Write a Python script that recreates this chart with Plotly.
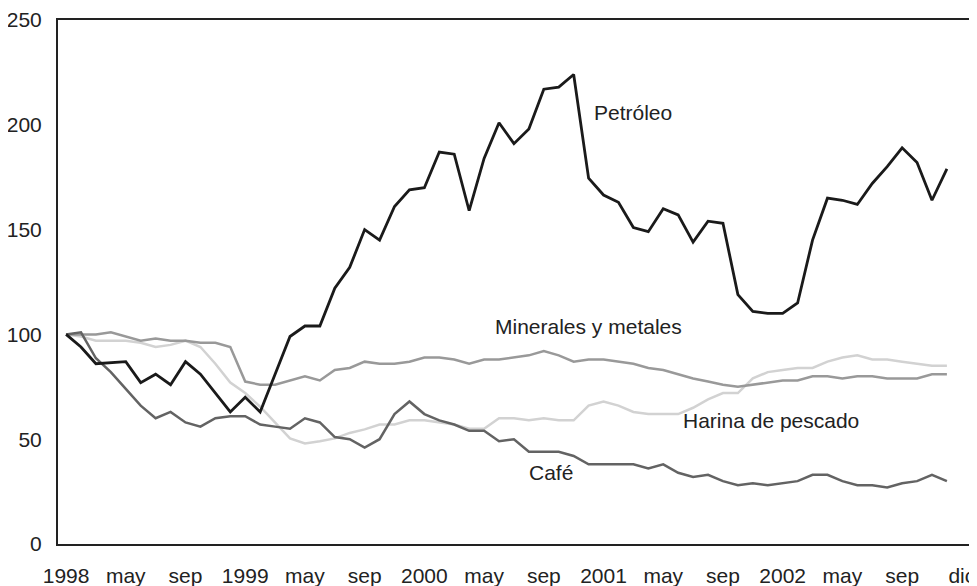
import plotly.graph_objects as go

# Monthly index, Jan 1998 = 100 (60 months: Jan 1998 - Dec 2002)
months = list(range(60))

petroleo = [100, 94, 86, 86.5, 87, 77, 81, 76, 87, 81, 72, 63, 70, 63, 81, 99, 104, 104, 122, 132,
            150, 145, 161, 169, 170, 187, 186, 159, 184, 201, 191, 198, 217, 218, 224, 174.5, 166.5, 163, 151, 149,
            160, 157, 144, 154, 153, 119, 111, 110, 110, 115, 145, 165, 164, 162, 172, 180, 189, 182, 164, 179]

minerales = [100, 100, 100, 101, 99, 97, 98, 97, 97, 96, 96, 94, 77.5, 76, 76, 78, 80, 78, 83, 84,
             87, 86, 86, 87, 89, 89, 88, 86, 88, 88, 89, 90, 92, 90, 87, 88, 88, 87, 86, 84,
             83, 81, 79, 77.5, 76, 75, 76, 77, 78, 78, 80, 80, 79, 80, 80, 79, 79, 79, 81, 81]

harina = [100, 99, 97, 97, 97, 96, 94, 95, 97, 94, 86, 77, 72, 65.5, 58, 50.4, 48, 49, 50.4, 53,
          54.7, 57, 57, 59, 59, 58, 57, 55, 55, 60, 60, 59, 60, 59, 59, 66, 68, 66, 63, 62,
          62, 62, 65, 69, 72, 72, 79, 82, 83, 84, 84, 87, 89, 90, 88, 88, 87, 86, 85, 85]

cafe = [100, 101, 88.6, 82, 74, 66, 60, 63, 58, 56, 60, 61, 61, 57, 56, 55, 60, 58, 51, 50,
        46, 50, 62, 68, 62, 59, 57, 54, 54, 49, 50, 44, 44, 44, 42, 38, 38, 38, 38, 36,
        38, 34, 32, 33, 30, 28, 29, 28, 29, 30, 33, 33, 30, 28, 28, 27, 29, 30, 33, 30]

tick_labels = ["1998", "may", "sep", "1999", "may", "sep", "2000", "may", "sep",
               "2001", "may", "sep", "2002", "may", "sep", "dic"]
tick_positions = [0, 4, 8, 12, 16, 20, 24, 28, 32, 36, 40, 44, 48, 52, 56, 60]

series_labels = ["Petróleo", "Minerales y metales", "Harina de pescado", "Café"]
label_x = [35.2, 28.6, 41.2, 30.9]
label_y = [206, 104, 59, 34]

fig = go.Figure()
fig.add_trace(go.Scatter(x=months, y=harina, mode="lines", name="Harina de pescado",
                         line=dict(color="#d2d2d2", width=2.5)))
fig.add_trace(go.Scatter(x=months, y=minerales, mode="lines", name="Minerales y metales",
                         line=dict(color="#999999", width=2.5)))
fig.add_trace(go.Scatter(x=months, y=cafe, mode="lines", name="Café",
                         line=dict(color="#636363", width=2.5)))
fig.add_trace(go.Scatter(x=months, y=petroleo, mode="lines", name="Petróleo",
                         line=dict(color="#1a1a1a", width=2.8)))

for t, xx, yy in zip(series_labels, label_x, label_y):
    fig.add_annotation(x=xx, y=yy, text=t, showarrow=False, xanchor="left", yanchor="middle",
                       font=dict(size=21, color="#222222"))

# page body adds an 8px margin, so the figure is sized to fit the 977x586 window
fig.update_layout(
    width=969, height=578,
    margin=dict(l=50, r=8, t=12, b=42),
    paper_bgcolor="white", plot_bgcolor="white",
    showlegend=False,
    font=dict(family="Liberation Sans, Arial, sans-serif", size=21, color="#222222"),
)
fig.update_xaxes(range=[-0.54, 60.48], tickvals=tick_positions, ticktext=tick_labels,
                 showgrid=False, zeroline=False, showline=True, linecolor="#222222", linewidth=2,
                 mirror=True, ticks="", ticklabelstandoff=12, automargin=False)
fig.update_yaxes(range=[0, 250], tickvals=[0, 50, 100, 150, 200, 250],
                 showgrid=False, zeroline=False, showline=True, linecolor="#222222", linewidth=2,
                 mirror=True, ticks="", ticklabelstandoff=10, automargin=False)

fig.write_html("out.html")
